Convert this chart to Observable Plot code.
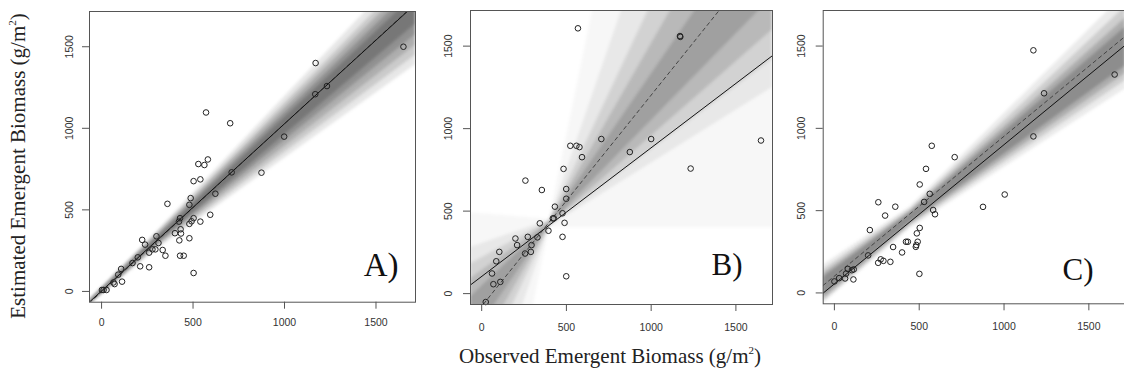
<!DOCTYPE html>
<html>
<head>
<meta charset="utf-8">
<script src="https://cdn.jsdelivr.net/npm/d3@7"></script>
<script src="https://cdn.jsdelivr.net/npm/@observablehq/plot@0.6"></script>
<style>
  html, body { margin: 0; padding: 0; background: #fff; }
  #wrap { position: relative; width: 1124px; height: 375px; overflow: hidden; background: #fff; }
  .panel { position: absolute; top: 0; }
  .title { position: absolute; font-family: "Liberation Serif", "Times New Roman", serif; font-size: 21px; color: #222; white-space: nowrap; }
  .title sup { font-size: 11px; vertical-align: 0; position: relative; top: -9px; }
</style>
</head>
<body>
<div id="wrap">
  <div class="title" id="ytitle" style="left:18px; top:166px; transform: translate(-50%,-50%) rotate(-90deg);">Estimated Emergent Biomass (g/m<sup>2</sup>)</div>
  <div class="title" id="xtitle" style="left:610px; top:356px; transform: translate(-50%,-50%);">Observed Emergent Biomass (g/m<sup>2</sup>)</div>
</div>
<script>
// ---------- data ----------
const ticks = [0, 500, 1000, 1500];
const panelLetters = ["A)", "B)", "C)"];

// Panel A: observed vs estimated
const obsA = [2, 11, 27, 65, 71, 91, 107, 112, 169, 198, 211, 222, 238, 260, 260, 278, 294, 300, 311, 334, 349, 360, 401, 423, 429, 425, 432, 434, 429, 449, 480, 480, 487, 480, 492, 503, 503, 503, 529, 540, 540, 562, 571, 581, 594, 622, 703, 711, 874, 998, 1170, 1168, 1232, 1650];
const estA = [9, 9, 9, 55, 45, 103, 138, 60, 174, 209, 154, 316, 287, 238, 148, 258, 258, 338, 297, 254, 219, 537, 357, 428, 449, 313, 381, 355, 219, 219, 414, 531, 572, 326, 430, 449, 676, 113, 781, 687, 428, 775, 1097, 809, 470, 599, 1031, 730, 728, 949, 1400, 1209, 1259, 1500];

// Panel B
const obsB = [24, 61, 69, 86, 104, 110, 199, 209, 256, 258, 272, 290, 294, 329, 343, 355, 394, 420, 426, 432, 477, 477, 483, 489, 499, 499, 499, 523, 559, 568, 577, 592, 706, 874, 1000, 1170, 1172, 1233, 1648];
const estB = [-51, 122, 57, 196, 253, 71, 334, 294, 243, 685, 344, 253, 294, 341, 426, 628, 381, 456, 456, 527, 344, 487, 756, 429, 575, 634, 105, 896, 896, 1608, 888, 827, 937, 858, 937, 1561, 1556, 758, 928];

// Panel C
const obsC = [0, 28, 63, 69, 79, 103, 114, 112, 199, 209, 258, 259, 273, 289, 299, 330, 346, 359, 399, 422, 433, 480, 483, 486, 491, 501, 503, 503, 529, 540, 562, 574, 582, 593, 709, 876, 1004, 1173, 1173, 1236, 1652];
const estC = [70, 90, 88, 118, 146, 138, 143, 82, 228, 382, 183, 551, 204, 195, 470, 189, 279, 524, 246, 311, 311, 280, 291, 362, 311, 116, 395, 659, 553, 754, 602, 894, 504, 478, 825, 523, 598, 1474, 951, 1213, 1327];

// fitted lines: [intercept, slope]
const solidA = [3, 1.025];
const dashedA = [-2, 1.03];
const solidB = [104, 0.78];
const dashedB = [-77, 1.28];
const solidC = [55, 0.846];
const dashedC = [102, 0.85];

// posterior band envelopes: [lower, upper] y at [left edge, waist, right edge]
const bandXA = [-66, 300, 1716];
const bandsA = [
  [[-82, 255, 1390], [-48, 365, 2040]],
  [[-80, 268, 1450], [-52, 355, 1970]],
  [[-78, 278, 1510], [-55, 345, 1920]],
  [[-75, 288, 1575], [-60, 334, 1870]],
  [[-72, 296, 1640], [-62, 324, 1820]]
];
const bandOpacityA = [0.12, 0.16, 0.2, 0.25, 0.3];

const bandXB = [-66, 400, 1716];
const bandsB = [
  [[-1905, 400, 400], [490, 450, 7000]],
  [[-993, 405, 1250], [280, 445, 4373]],
  [[-615, 410, 1420], [180, 440, 3320]],
  [[-424, 415, 1600], [90, 435, 2794]],
  [[-280, 419, 1800], [-20, 431, 2399]]
];
const bandOpacityB = [0.04, 0.08, 0.12, 0.16, 0.2];

const bandXC = [-66, 450, 1716];
const bandsC = [
  [[-62, 395, 1240], [170, 525, 1820]],
  [[-50, 410, 1290], [140, 510, 1740]],
  [[-35, 422, 1335], [115, 498, 1670]],
  [[-15, 433, 1380], [95, 487, 1615]]
];
const bandOpacityC = [0.1, 0.16, 0.22, 0.28];

// ---------- drawing ----------
const domain = [-66, 1716];

function lineRows(fit) {
  return domain.map(x => ({x, y: fit[0] + fit[1] * x}));
}

function panel(cfg) {
  const pts = cfg.obs.map((x, i) => ({x, y: cfg.est[i]}));
  const bandMarks = cfg.bands.map((b, i) =>
    Plot.areaY(cfg.bandX.map((x, j) => ({x, lo: b[0][j], hi: b[1][j]})),
      {x: "x", y1: "lo", y2: "hi", fill: "#3a3a3a", fillOpacity: cfg.op[i], clip: true, imageFilter: "blur(1.8px)"}));
  const p = Plot.plot({
    width: cfg.width,
    height: 340,
    marginLeft: cfg.ml,
    marginRight: cfg.mr,
    marginTop: cfg.mt,
    marginBottom: cfg.mb,
    style: {fontFamily: "'Liberation Sans', Arial, sans-serif", fontSize: "10.5px", color: "#333", background: "transparent", overflow: "visible"},
    x: {domain, ticks: ticks, label: null},
    y: {domain, ticks: ticks, label: null},
    marks: [
      ...bandMarks,
      Plot.line(lineRows(cfg.dashed), {x: "x", y: "y", stroke: "#444", strokeWidth: 1, strokeDasharray: "3.5,3.5", clip: true}),
      Plot.line(lineRows(cfg.solid), {x: "x", y: "y", stroke: "#111", strokeWidth: 1, clip: true}),
      Plot.dot(pts, {x: "x", y: "y", r: 2.8, stroke: "#222", strokeWidth: 1, fill: "none"}),
      Plot.frame({stroke: "#555", strokeWidth: 1}),
      Plot.axisX({ticks, tickFormat: d => String(d), tickSize: 7, tickPadding: cfg.xpad, stroke: "#555", fill: "#333", label: null}),
      Plot.axisY({ticks, tickFormat: d => String(d), tickSize: 7, tickPadding: cfg.ypad, tickRotate: -90, stroke: "#555", fill: "#333", label: null}),
      Plot.text([cfg.letter], {frameAnchor: "bottom-right", text: d => d, textAnchor: "end", lineAnchor: "bottom", dx: -cfg.ldx, dy: -cfg.ldy, fontFamily: "'Liberation Serif', 'Times New Roman', serif", fontSize: cfg.lsize, fill: "#111"})
    ]
  });
  p.classList.add("panel");
  p.style.left = cfg.left + "px";
  document.getElementById("wrap").appendChild(p);
}

panel({obs: obsA, est: estA, solid: solidA, dashed: dashedA, bandX: bandXA, bands: bandsA, op: bandOpacityA, letter: panelLetters[0],
  left: 40, width: 380, ml: 49, mr: 5, mt: 11, mb: 38.3, xpad: 9, ypad: 10, ldx: 17, ldy: 26.7, lsize: 33});
panel({obs: obsB, est: estB, solid: solidB, dashed: dashedB, bandX: bandXB, bands: bandsB, op: bandOpacityB, letter: panelLetters[1],
  left: 425, width: 350, ml: 45, mr: 3, mt: 10, mb: 36, xpad: 12, ypad: 12, ldx: 30, ldy: 29.7, lsize: 31});
panel({obs: obsC, est: estC, solid: solidC, dashed: dashedC, bandX: bandXC, bands: bandsC, op: bandOpacityC, letter: panelLetters[2],
  left: 778, width: 350, ml: 44.7, mr: 3, mt: 10, mb: 36.7, xpad: 12, ypad: 11, ldx: 32, ldy: 24, lsize: 31});
</script>
</body>
</html>
